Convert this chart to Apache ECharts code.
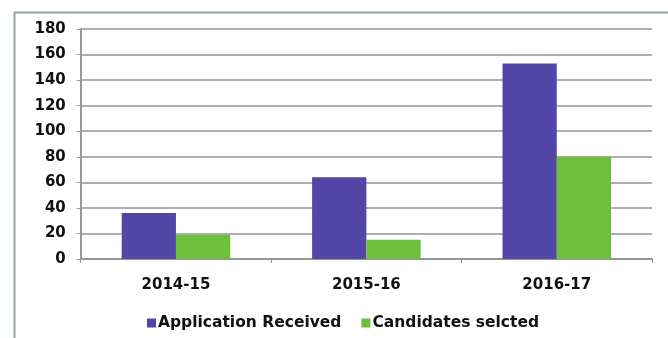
<!DOCTYPE html>
<html>
<head>
<meta charset="utf-8">
<script src="https://cdn.jsdelivr.net/npm/echarts@6/dist/echarts.min.js"></script>
<style>html,body{margin:0;padding:0;background:#fff}#c{width:668px;height:338px}</style>
</head>
<body>
<div id="c"></div>
<script>
var categories = ['2014-15', '2015-16', '2016-17'];
var applicationReceived = [36, 64, 153];
var candidatesSelected = [19, 15, 80];
var yTicks = [0, 20, 40, 60, 80, 100, 120, 140, 160, 180];

var chart = echarts.init(document.getElementById('c'), null, {renderer: 'canvas'});
var font = '"DejaVu Sans", Arial, sans-serif';
chart.setOption({
  animation: false,
  backgroundColor: '#ffffff',
  graphic: [{
    type: 'rect',
    shape: {x: 14.5, y: 12.5, width: 700, height: 400},
    style: {fill: 'none', stroke: '#93a3a3', lineWidth: 2},
    z: 0
  }],
  grid: {left: 80.75, right: 16, top: 29, bottom: 79, containLabel: false},
  legend: {
    left: 142, top: 310,
    icon: 'rect', itemWidth: 9, itemHeight: 9, itemGap: 20,
    textStyle: {fontFamily: font, fontWeight: 'bold', fontSize: 15.5, color: '#111', padding: [0, 0, 0, -3]},
    data: ['Application Received', 'Candidates selcted']
  },
  xAxis: {
    type: 'category',
    data: categories,
    axisLine: {show: true, lineStyle: {color: '#8e9a9a', width: 2}},
    axisTick: {show: true, length: 4, lineStyle: {color: '#8e9a9a'}},
    axisLabel: {fontFamily: font, fontWeight: 'bold', fontSize: 15, color: '#111', margin: 19}
  },
  yAxis: {
    type: 'value',
    min: yTicks[0], max: yTicks[yTicks.length - 1], interval: 20,
    axisLine: {show: true, lineStyle: {color: '#999999', width: 2}},
    axisTick: {show: true, length: 4, lineStyle: {color: '#8e9a9a'}},
    splitLine: {lineStyle: {color: '#8a9a98', width: 1.5}},
    axisLabel: {fontFamily: font, fontWeight: 'bold', fontSize: 15, color: '#111', margin: 15}
  },
  series: [
    {name: 'Application Received', type: 'bar', data: applicationReceived,
     itemStyle: {color: '#5446a6'}, barGap: '0%', barCategoryGap: '43%'},
    {name: 'Candidates selcted', type: 'bar', data: candidatesSelected,
     itemStyle: {color: '#6dbf3c'}, barGap: '0%', barCategoryGap: '43%'}
  ]
});
</script>
</body>
</html>
